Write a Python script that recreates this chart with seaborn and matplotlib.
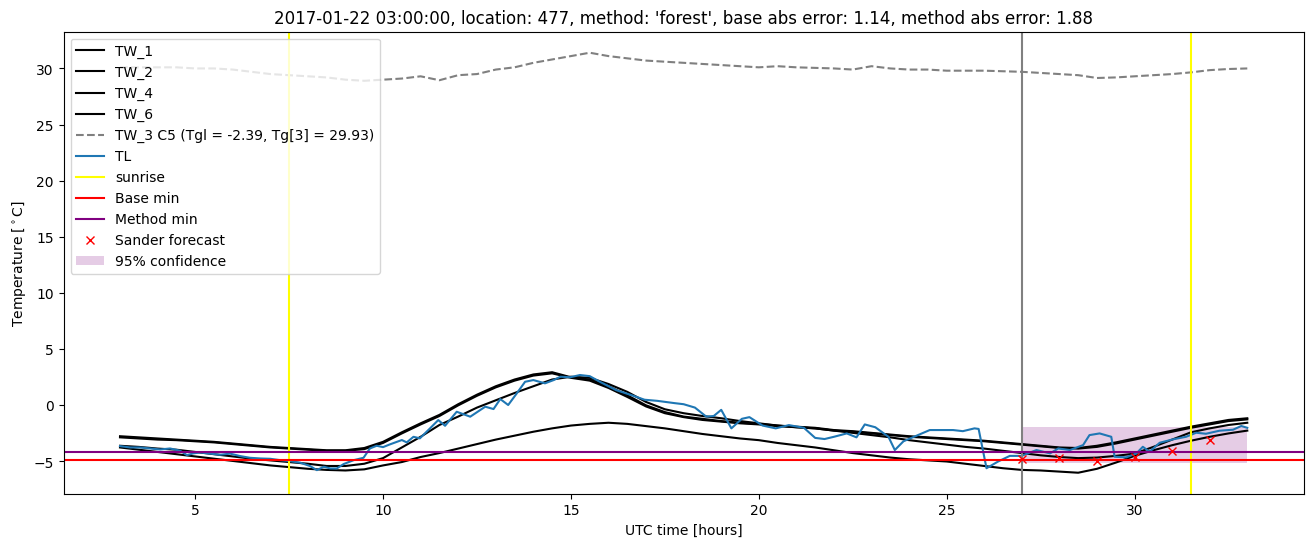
import numpy as np
import matplotlib
matplotlib.use("Agg")
import matplotlib.pyplot as plt
import seaborn as sns

# uur-raster voor de wegdek sensoren (UTC uren)
hours = np.arange(3.0, 33.01, 0.5)

tw_1 = [-2.75, -2.85, -2.95, -3.05, -3.15, -3.25, -3.4, -3.55, -3.7, -3.8, -3.9, -4.0,
        -4.0, -3.8, -3.25, -2.4, -1.6, -0.85, 0.1, 0.95, 1.7, 2.3, 2.75, 2.95,
        2.5, 2.3, 1.7, 0.9, 0.0, -0.6, -1.0, -1.2, -1.4, -1.55, -1.65, -1.8,
        -1.9, -2.0, -2.2, -2.3, -2.45, -2.6, -2.75, -2.85, -2.95, -3.05, -3.15, -3.3,
        -3.45, -3.6, -3.75, -3.8, -3.6, -3.3, -2.95, -2.6, -2.25, -1.9, -1.6, -1.3, -1.15]
tw_2 = [-2.85, -2.95, -3.05, -3.1, -3.2, -3.3, -3.45, -3.6, -3.75, -3.85, -3.95, -4.05,
        -4.05, -3.9, -3.35, -2.5, -1.7, -0.95, 0.0, 0.85, 1.6, 2.2, 2.65, 2.85,
        2.45, 2.2, 1.55, 0.75, -0.1, -0.7, -1.05, -1.3, -1.45, -1.6, -1.7, -1.85,
        -1.95, -2.05, -2.25, -2.35, -2.5, -2.65, -2.8, -2.9, -3.0, -3.1, -3.2, -3.35,
        -3.5, -3.65, -3.8, -3.85, -3.7, -3.4, -3.05, -2.7, -2.35, -2.0, -1.7, -1.4, -1.25]
tw_4 = [-3.6, -3.7, -3.85, -3.95, -4.15, -4.35, -4.55, -4.75, -4.9, -5.05, -5.2, -5.4,
        -5.4, -5.2, -4.7, -3.75, -2.8, -1.75, -1.0, -0.2, 0.45, 1.1, 1.7, 2.3,
        2.55, 2.45, 1.9, 1.2, 0.3, -0.35, -0.7, -0.95, -1.15, -1.4, -1.6, -1.8,
        -1.95, -2.05, -2.25, -2.45, -2.65, -2.85, -3.1, -3.3, -3.5, -3.7, -3.85, -4.05,
        -4.25, -4.45, -4.6, -4.7, -4.65, -4.5, -4.3, -3.7, -3.05, -2.4, -2.05, -1.75, -1.55]
tw_6 = [-3.75, -3.95, -4.15, -4.35, -4.55, -4.75, -4.95, -5.15, -5.35, -5.5, -5.65, -5.75,
        -5.8, -5.7, -5.35, -5.05, -4.6, -4.25, -3.85, -3.45, -3.05, -2.7, -2.35, -2.05,
        -1.8, -1.65, -1.55, -1.65, -1.85, -2.05, -2.3, -2.55, -2.75, -2.95, -3.1, -3.35,
        -3.55, -3.75, -4.0, -4.25, -4.45, -4.65, -4.8, -4.9, -5.0, -5.2, -5.4, -5.6,
        -5.75, -5.8, -5.9, -6.0, -5.65, -5.1, -4.5, -4.0, -3.55, -3.15, -2.8, -2.5, -2.25]
tw_3 = [30.1, 30.1, 30.1, 30.1, 30.0, 30.0, 29.9, 29.7, 29.5, 29.4, 29.3, 29.2,
        29.0, 28.9, 29.0, 29.1, 29.3, 28.95, 29.4, 29.5, 29.9, 30.1, 30.5, 30.8,
        31.1, 31.4, 31.1, 30.9, 30.7, 30.6, 30.5, 30.4, 30.3, 30.2, 30.1, 30.2,
        30.1, 30.05, 30.0, 29.9, 30.2, 30.0, 29.9, 29.9, 29.8, 29.8, 29.8, 29.75,
        29.7, 29.6, 29.5, 29.4, 29.15, 29.2, 29.3, 29.4, 29.5, 29.65, 29.85, 29.95, 30.0]

# luchttemperatuur (onregelmatige tijden)
tl_hours = [3.0, 3.27, 3.53, 3.8, 4.07, 4.33, 4.6, 4.78, 4.95, 5.13, 5.4, 5.66, 5.93,
            6.2, 6.46, 6.73, 7.0, 7.26, 7.53, 7.8, 8.06, 8.24, 8.42, 8.6, 8.77, 8.95,
            9.22, 9.48, 9.65, 9.83, 10.0, 10.18, 10.5, 10.63, 10.81, 10.98, 11.25, 11.47,
            11.65, 11.96, 12.32, 12.72, 12.94, 13.12, 13.33, 13.56, 13.78, 14.0, 14.31,
            14.54, 14.72, 14.98, 15.24, 15.5, 15.77, 16.2, 16.6, 16.96, 17.3, 17.75, 18.0,
            18.3, 18.6, 18.8, 19.0, 19.27, 19.55, 19.75, 20.1, 20.45, 20.8, 21.2, 21.5,
            21.75, 22.0, 22.34, 22.6, 22.82, 23.1, 23.45, 23.62, 23.85, 24.2, 24.55, 25.0,
            25.17, 25.43, 25.74, 25.85, 26.06, 26.37, 26.68, 26.99, 27.39, 27.75, 27.97,
            28.28, 28.63, 28.8, 29.07, 29.38, 29.47, 29.78, 30.05, 30.22, 30.4, 30.67,
            31.02, 31.37, 31.64, 31.9, 32.26, 32.62, 32.84, 33.0]
tl_temp = [-3.63, -3.75, -3.75, -3.84, -3.93, -3.84, -4.04, -4.43, -4.28, -4.2, -4.3, -4.4, -4.3,
           -4.52, -4.67, -4.73, -4.76, -4.88, -4.97, -5.11, -5.41, -5.77, -5.47, -5.62, -5.62, -5.23,
           -4.88, -4.67, -3.84, -3.6, -3.72, -3.48, -3.09, -3.3, -2.8, -2.94, -2.05, -1.31,
           -1.82, -0.57, -1.01, -0.12, -0.33, 0.56, 0.03, 1.07, 2.1, 2.25, 1.96,
           2.25, 2.55, 2.5, 2.7, 2.6, 2.1, 1.36, 0.92, 0.5, 0.4, 0.2, 0.1,
           -0.2, -1.0, -0.95, -0.4, -2.05, -1.2, -1.05, -1.8, -2.05, -1.76, -2.0, -2.9,
           -3.0, -2.8, -2.5, -2.85, -1.7, -1.95, -2.8, -3.98, -3.2, -2.7, -2.2, -2.2,
           -2.2, -2.3, -2.05, -2.1, -5.6, -5.0, -4.5, -4.5, -3.98, -4.28, -3.84,
           -3.98, -3.54, -2.65, -2.5, -2.8, -4.58, -4.63, -4.28, -3.69, -4.13, -3.33,
           -3.03, -2.8, -2.44, -2.53, -2.26, -2.17, -1.84, -2.0]

# voorspelling en grenzen
forecast_hours = [27, 28, 29, 30, 31, 32]
forecast_temp = [-4.82, -4.73, -4.93, -4.64, -4.07, -3.09]
conf_hours = [27, 33]
conf_low = [-5.17, -5.17]
conf_high = [-1.9, -1.9]
sunrise_hours = [7.5, 31.5]
now_hour = 27
base_min = -4.88
method_min = -4.16

fig, ax = plt.subplots(figsize=(16, 6))

for vals, name in [(tw_1, "TW_1"), (tw_2, "TW_2"), (tw_4, "TW_4"), (tw_6, "TW_6")]:
    sns.lineplot(x=hours, y=vals, color="black", label=name, ax=ax)
sns.lineplot(x=hours, y=tw_3, color="gray", linestyle="--",
             label="TW_3 C5 (Tgl = -2.39, Tg[3] = 29.93)", ax=ax)
sns.lineplot(x=tl_hours, y=tl_temp, color="#1f77b4", label="TL", sort=False, ax=ax)

ax.axvline(sunrise_hours[0], color="yellow", label="sunrise")
ax.axvline(sunrise_hours[1], color="yellow")
ax.axvline(now_hour, color="gray")
ax.axhline(base_min, color="red", label="Base min")
ax.axhline(method_min, color="purple", label="Method min")
ax.plot(forecast_hours, forecast_temp, "rx", label="Sander forecast")
ax.fill_between(conf_hours, conf_low, conf_high, color="purple", alpha=0.2,
                linewidth=0, label="95% confidence")

ax.set_title("2017-01-22 03:00:00, location: 477, method: 'forest', "
             "base abs error: 1.14, method abs error: 1.88")
ax.set_xlabel("UTC time [hours]")
ax.set_ylabel("Temperature [$^\\circ$C]")
ax.legend(loc="upper left")

plt.savefig("out.png", dpi=100, bbox_inches="tight")
